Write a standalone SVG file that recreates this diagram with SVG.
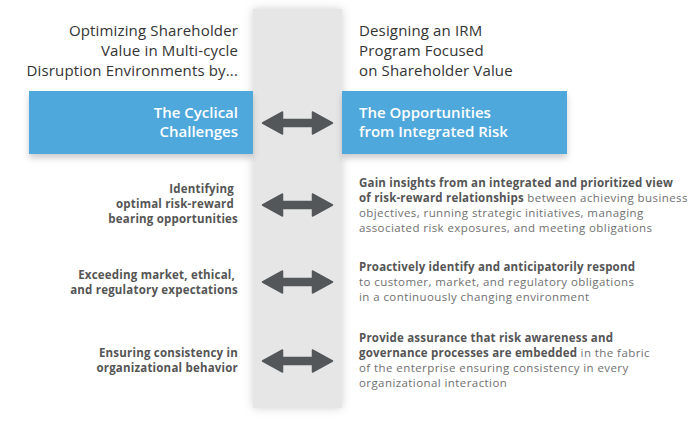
<svg xmlns="http://www.w3.org/2000/svg" width="700" height="430" viewBox="0 0 700 430">
<style>
  .title{font-family:"Open Sans","Noto Sans",sans-serif;font-size:15px;letter-spacing:0.15px;fill:#333333;}
  .bar{font-family:"Open Sans","Noto Sans",sans-serif;font-size:15px;font-weight:600;fill:#ffffff;}
  .item{font-family:"Open Sans","Noto Sans",sans-serif;font-size:11.5px;letter-spacing:0.2px;font-weight:700;fill:#555555;}
  .desc{font-family:"Open Sans","Noto Sans",sans-serif;font-size:11.5px;letter-spacing:0.42px;fill:#707070;}
  .desc tspan.b{letter-spacing:0.19px;font-weight:700;fill:#555555;}
  .r{text-anchor:end;}
  .arrow{fill:#53575a;stroke:#53575a;stroke-width:1.5;stroke-linejoin:round;}
</style>
<defs>
  <filter id="colShadow" x="-30%" y="-5%" width="160%" height="110%">
    <feDropShadow dx="0" dy="0" stdDeviation="5" flood-color="#000" flood-opacity="0.18"/>
  </filter>
  <filter id="barShadow" x="-5%" y="-20%" width="110%" height="160%">
    <feDropShadow dx="0" dy="4" stdDeviation="3" flood-color="#000" flood-opacity="0.2"/>
  </filter>
  <path id="dblArrow" d="M-35,0 L-15,-11 L-15,-3.5 L15,-3.5 L15,-11 L35,0 L15,11 L15,3.5 L-15,3.5 L-15,11 Z"/>
</defs>
<rect width="700" height="430" fill="#ffffff"/>

<g id="column">
  <rect x="253" y="9" width="89" height="399" fill="#e6e6e6" filter="url(#colShadow)"/>
</g>

<g id="left-header">
  <text class="title r" x="238" y="36">Optimizing Shareholder</text>
  <text class="title r" x="238" y="56">Value in Multi-cycle</text>
  <text class="title r" x="238" y="76">Disruption Environments by...</text>
</g>
<g id="right-header">
  <text class="title" x="359" y="36">Designing an IRM</text>
  <text class="title" x="359" y="56">Program Focused</text>
  <text class="title" x="359" y="76">on Shareholder Value</text>
</g>

<g id="left-bar">
  <rect x="29" y="91" width="224" height="63" fill="#4fa8dc" filter="url(#barShadow)"/>
  <text class="bar r" x="238" y="118">The Cyclical</text>
  <text class="bar r" x="238" y="137">Challenges</text>
</g>
<g id="right-bar">
  <rect x="342" y="91" width="225" height="63" fill="#4fa8dc" filter="url(#barShadow)"/>
  <text class="bar" x="359" y="118">The Opportunities</text>
  <text class="bar" x="359" y="137">from Integrated Risk</text>
</g>

<g id="left-item-1">
  <text class="item r" x="234" y="193">Identifying</text>
  <text class="item r" x="234" y="208">optimal risk-reward</text>
  <text class="item r" x="238" y="223">bearing opportunities</text>
</g>
<g id="left-item-2">
  <text class="item r" x="235" y="279">Exceeding market, ethical,</text>
  <text class="item r" x="238" y="294">and regulatory expectations</text>
</g>
<g id="left-item-3">
  <text class="item r" x="238" y="357">Ensuring consistency in</text>
  <text class="item r" x="238" y="372">organizational behavior</text>
</g>

<g id="right-item-1">
  <text class="desc" x="359" y="187"><tspan class="b">Gain insights from an integrated and prioritized view</tspan></text>
  <text class="desc" x="359" y="202"><tspan class="b">of risk-reward relationships</tspan> between achieving business</text>
  <text class="desc" x="359" y="217">objectives, running strategic initiatives, managing</text>
  <text class="desc" x="359" y="232">associated risk exposures, and meeting obligations</text>
</g>
<g id="right-item-2">
  <text class="desc" x="359" y="271"><tspan class="b">Proactively identify and anticipatorily respond</tspan></text>
  <text class="desc" x="359" y="286">to customer, market, and regulatory obligations</text>
  <text class="desc" x="359" y="301">in a continuously changing environment</text>
</g>
<g id="right-item-3">
  <text class="desc" x="359" y="342"><tspan class="b">Provide assurance that risk awareness and</tspan></text>
  <text class="desc" x="359" y="357"><tspan class="b">governance processes are embedded</tspan> in the fabric</text>
  <text class="desc" x="359" y="372">of the enterprise ensuring consistency in every</text>
  <text class="desc" x="359" y="387">organizational interaction</text>
</g>

<g id="connectors">
  <use href="#dblArrow" class="arrow" transform="translate(297.5,123)"/>
  <use href="#dblArrow" class="arrow" transform="translate(297.5,205)"/>
  <use href="#dblArrow" class="arrow" transform="translate(297.5,282)"/>
  <use href="#dblArrow" class="arrow" transform="translate(297.5,361)"/>
</g>
</svg>
